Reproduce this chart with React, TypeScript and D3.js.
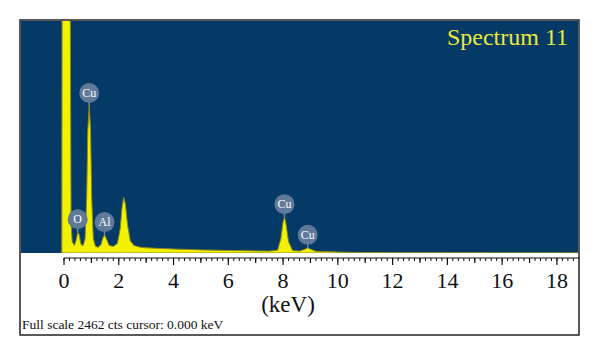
import React from "react";
import * as d3 from "d3";

const energy = [-0.08, -0.07, 0.23, 0.26, 0.3, 0.38, 0.45, 0.5, 0.55, 0.62, 0.7, 0.77, 0.83, 0.87, 0.92, 0.97, 1.01, 1.07, 1.15, 1.25, 1.35, 1.42, 1.48, 1.55, 1.65, 1.8, 1.95, 2.05, 2.12, 2.18, 2.24, 2.32, 2.42, 2.55, 2.8, 3.0, 3.5, 4.0, 4.5, 5.0, 5.5, 6.0, 6.5, 7.0, 7.5, 7.8, 7.92, 8.0, 8.05, 8.1, 8.2, 8.35, 8.6, 8.8, 8.9, 9.0, 9.2, 9.5, 10.0, 10.5, 11.0, 11.5, 12.0, 18.77];
const counts = [0, 2700, 2700, 300, 120, 80, 140, 220, 200, 90, 80, 150, 600, 1300, 1560, 1300, 600, 150, 70, 60, 90, 160, 190, 150, 80, 70, 100, 250, 480, 590, 520, 300, 130, 80, 60, 55, 48, 42, 38, 33, 30, 27, 25, 22, 20, 30, 150, 330, 380, 320, 120, 25, 20, 40, 55, 40, 18, 15, 10, 6, 5, 4, 2, 0];

const peakLabels = ["O", "Cu", "Al", "Cu", "Cu"];
const peakEnergy = [0.5, 0.92, 1.48, 8.05, 8.9];
const peakCounts = [220, 1560, 190, 380, 55];

const tickValues = [0, 2, 4, 6, 8, 10, 12, 14, 16, 18];
const fullScale = 2462;
const title = "Spectrum 11";
const axisTitle = "(keV)";
const footer = "Full scale 2462 cts cursor: 0.000 keV";

export default function App() {
  const left = 21, right = 578, top = 21, bottom = 253;
  const x = d3.scaleLinear().domain([0, 18.77]).range([64, right]);
  const y = d3.scaleLinear().domain([0, fullScale]).range([bottom, top]);
  const data = energy.map((e, i) => [e, Math.min(counts[i], fullScale + 50)] as [number, number]);
  const area = d3
    .area<[number, number]>()
    .x((d) => x(d[0]))
    .y0(bottom)
    .y1((d) => y(d[1]));
  const minor = d3.range(0, 18.77, 0.2);
  const serif = "'Liberation Serif', 'DejaVu Serif', serif";
  const axisY = 258;
  return (
    <svg width={600} height={356} style={{ position: "absolute", left: 0, top: 0 }}>
      <rect x={0} y={0} width={600} height={356} fill="#fff" />
      <rect x={20} y={20} width={559} height={315} fill="#fff" stroke="#222" strokeWidth={1.5} />
      <defs>
        <clipPath id="plotclip">
          <rect x={left} y={top} width={right - left} height={bottom - top} />
        </clipPath>
      </defs>
      <rect x={left} y={top} width={right - left} height={bottom - top} fill="#053966" />
      <g clipPath="url(#plotclip)">
        <path d={area(data) || ""} fill="#f2f200" stroke="#8c8c1e" strokeWidth={1} />
      </g>
      <text x={568} y={45} textAnchor="end" fontFamily={serif} fontSize={24} fill="#eaea3c">
        {title}
      </text>
      {peakLabels.map((lab, i) => {
        const cx = x(peakEnergy[i]);
        const py = y(peakCounts[i]);
        const cy = py - 13;
        return (
          <g key={i}>
            <line x1={cx} x2={cx} y1={cy} y2={py} stroke="#6f87a3" strokeWidth={1.5} />
            <circle cx={cx} cy={cy} r={10} fill="#5f7a98" />
            <text x={cx} y={cy + 4} textAnchor="middle" fontFamily={serif} fontSize={12} fill="#fff">
              {lab}
            </text>
          </g>
        );
      })}
      <line x1={x(0)} x2={right + 1} y1={axisY} y2={axisY} stroke="#111" strokeWidth={1} />
      {minor.map((v, i) => (
        <line key={"m" + i} x1={x(v)} x2={x(v)} y1={axisY} y2={axisY + 3} stroke="#111" strokeWidth={1} />
      ))}
      {d3.range(0, 19, 1).map((v) => (
        <line key={"M" + v} x1={x(v)} x2={x(v)} y1={axisY} y2={axisY + (v % 2 === 0 ? 7 : 5)} stroke="#111" strokeWidth={1.2} />
      ))}
      {tickValues.map((v) => (
        <text key={"t" + v} x={x(v)} y={288} textAnchor="middle" fontFamily={serif} fontSize={22} fill="#111">
          {v}
        </text>
      ))}
      <text x={288} y={312} textAnchor="middle" fontFamily={serif} fontSize={23} fill="#111">
        {axisTitle}
      </text>
      <text x={22} y={329} fontFamily={serif} fontSize={13.5} fill="#111">
        {footer}
      </text>
    </svg>
  );
}
